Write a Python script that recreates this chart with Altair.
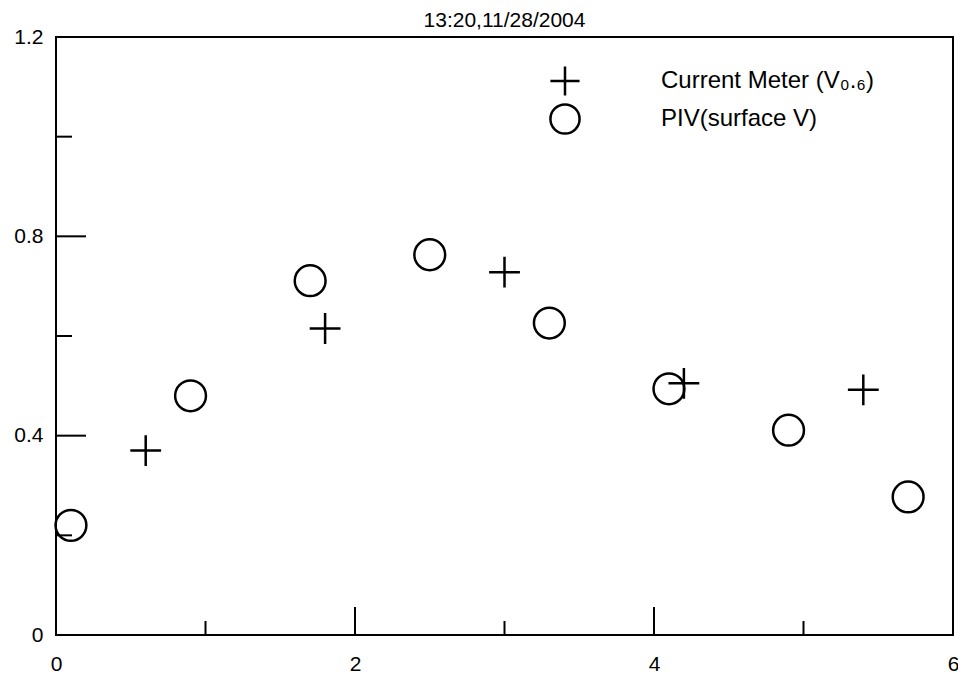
import altair as alt
import pandas as pd

# Data
cm_x = [0.6, 1.8, 3.0, 4.2, 5.4]
cm_y = [0.37, 0.615, 0.728, 0.505, 0.492]
piv_x = [0.1, 0.9, 1.7, 2.5, 3.3, 4.1, 4.9, 5.7]
piv_y = [0.22, 0.48, 0.711, 0.763, 0.626, 0.494, 0.411, 0.277]

series_names = ["Current Meter (V\u2080.\u2086)", "PIV(surface V)"]
title_text = "13:20,11/28/2004"

x_major = [0, 2, 4, 6]
x_minor = [1, 3, 5]
y_major = [0, 0.4, 0.8, 1.2]
y_minor = [0.2, 0.6, 1.0]

W, H = 897, 598
FONT = "Liberation Sans"
FS_AX = 21
FS_LEG = 24
FS_TITLE = 21

df = pd.DataFrame(
    {"x": cm_x + piv_x,
     "y": cm_y + piv_y,
     "series": [series_names[0]] * len(cm_x) + [series_names[1]] * len(piv_x)}
)

xscale = alt.Scale(domain=[0, 6], nice=False, zero=False)
yscale = alt.Scale(domain=[0, 1.2], nice=False, zero=False)

x_axis = alt.Axis(values=x_major, format="d", grid=False, ticks=False, domain=False,
                  labelFontSize=FS_AX, labelFont=FONT, labelColor="black",
                  labelPadding=18, labelFlush=False, labelOverlap=False)
y_axis = alt.Axis(values=y_major, format="~g", grid=False, ticks=False, domain=False,
                  labelFontSize=FS_AX, labelFont=FONT, labelColor="black",
                  labelPadding=13, labelFlush=False, labelOverlap=False)

cross_path = "M-1,0H1M0,-1V1"

points = alt.Chart(df).mark_point(
    filled=False, color="black", strokeWidth=2.5, size=950, opacity=1
).encode(
    x=alt.X("x:Q", scale=xscale, title=None, axis=x_axis),
    y=alt.Y("y:Q", scale=yscale, title=None, axis=y_axis),
    shape=alt.Shape("series:N",
                    scale=alt.Scale(domain=series_names, range=[cross_path, "circle"]),
                    legend=alt.Legend(title=None, orient="none", legendX=493, legendY=28,
                                      labelFontSize=FS_LEG, labelFont=FONT, labelColor="black",
                                      labelLimit=0,
                                      labelOffset=80, symbolSize=850, symbolStrokeWidth=2.5,
                                      symbolStrokeColor="black", symbolFillColor="transparent",
                                      rowPadding=-2, padding=0)),
)

xmaj = alt.Chart(pd.DataFrame({"v": x_major})).mark_rule(color="black", strokeWidth=2).encode(
    x=alt.X("v:Q", scale=xscale, title=None, axis=x_axis), y=alt.value(H), y2=alt.value(H - 28))
xmin = alt.Chart(pd.DataFrame({"v": x_minor})).mark_rule(color="black", strokeWidth=2).encode(
    x=alt.X("v:Q", scale=xscale, title=None, axis=x_axis), y=alt.value(H), y2=alt.value(H - 14))
ymaj = alt.Chart(pd.DataFrame({"v": y_major})).mark_rule(color="black", strokeWidth=2).encode(
    y=alt.Y("v:Q", scale=yscale, title=None, axis=y_axis), x=alt.value(0), x2=alt.value(30))
ymin = alt.Chart(pd.DataFrame({"v": y_minor})).mark_rule(color="black", strokeWidth=2).encode(
    y=alt.Y("v:Q", scale=yscale, title=None, axis=y_axis), x=alt.value(0), x2=alt.value(16))

chart = alt.layer(points, xmaj, xmin, ymaj, ymin).properties(
    width=W, height=H,
    title=alt.Title(title_text, fontSize=FS_TITLE, font=FONT, fontWeight="normal",
                    color="black", anchor="middle", offset=-5),
    autosize=alt.AutoSizeParams(type="none"),
    padding={"left": 48, "top": 29, "right": 5, "bottom": 39},
    background="white",
).configure_view(stroke="black", strokeWidth=2)

chart.save("out.html", embed_options={"renderer": "svg", "actions": False})
